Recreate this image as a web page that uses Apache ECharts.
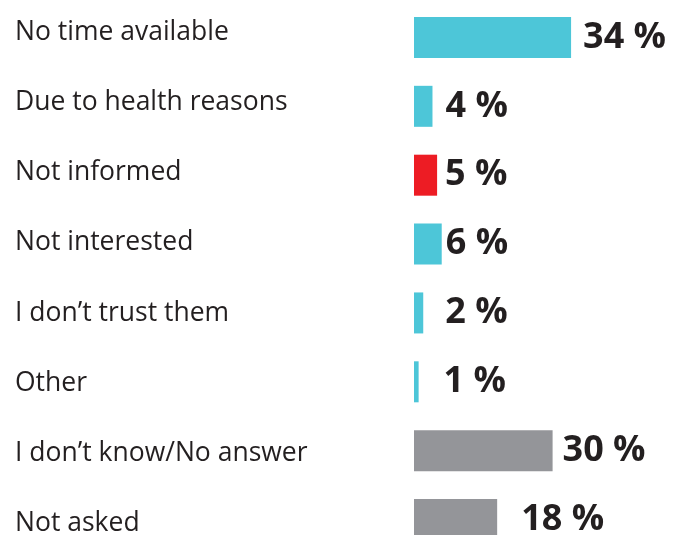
<!DOCTYPE html>
<html>
<head>
<meta charset="utf-8">
<script src="https://cdn.jsdelivr.net/npm/echarts@6/dist/echarts.min.js"></script>
<style>
  html, body { margin: 0; padding: 0; background: #ffffff; }
  #chart { width: 684px; height: 535px; }
</style>
</head>
<body>
<div id="chart"></div>
<script>
// Reasons given, in display order (top to bottom)
const categories = [
  'No time available',
  'Due to health reasons',
  'Not informed',
  'Not interested',
  'I don\u2019t trust them',
  'Other',
  'I don\u2019t know/No answer',
  'Not asked'
];

// Share of respondents, percent
const shares = [34, 4, 5, 6, 2, 1, 30, 18];

// Bar group per row: 'main', 'highlight' or 'none'
const groups = ['main', 'main', 'highlight', 'main', 'main', 'main', 'none', 'none'];

// Fill colour for each group
const groupColors = { main: '#4dc6d8', highlight: '#ed1c24', none: '#949599' };

// Gap between a bar's end and its value label
const labelGaps = [12, 13, 8, 4, 22, 25, 10, 24];

const textColor = '#231f20';

const chart = echarts.init(document.getElementById('chart'), null, { renderer: 'canvas' });

const barData = shares.map((v, i) => ({
  value: v,
  itemStyle: { color: groupColors[groups[i]] },
  label: { distance: labelGaps[i] }
}));

chart.setOption({
  animation: false,
  backgroundColor: '#ffffff',
  grid: [
    // bars: eight rows of ~68.9px, the last one running past the bottom edge
    { left: 414, top: 3, width: 231, height: 551, outerBoundsMode: 'none', containLabel: false },
    // row captions, on a slightly wider row pitch
    { left: 15, top: -3, width: 300, height: 562, outerBoundsMode: 'none', containLabel: false }
  ],
  xAxis: [
    { gridIndex: 0, type: 'value', min: 0, max: 50, show: false },
    { gridIndex: 1, type: 'value', min: 0, max: 1, show: false }
  ],
  yAxis: [
    {
      gridIndex: 0,
      type: 'category',
      inverse: true,
      data: categories,
      axisLine: { show: false },
      axisTick: { show: false },
      axisLabel: { show: false },
      splitLine: { show: false }
    },
    {
      gridIndex: 1,
      type: 'category',
      inverse: true,
      data: categories,
      position: 'left',
      axisLine: { show: false },
      axisTick: { show: false },
      splitLine: { show: false },
      axisLabel: {
        inside: true,
        margin: 0,
        align: 'left',
        color: textColor,
        fontFamily: 'Open Sans',
        fontSize: 26.5,
        fontWeight: 'normal'
      }
    }
  ],
  series: [
    {
      type: 'bar',
      xAxisIndex: 0,
      yAxisIndex: 0,
      barWidth: 41,
      data: barData,
      label: {
        show: true,
        position: 'right',
        formatter: p => p.value + ' %',
        color: textColor,
        fontFamily: 'Open Sans',
        fontWeight: 'bold',
        fontSize: 36
      }
    }
  ]
});
</script>
</body>
</html>
